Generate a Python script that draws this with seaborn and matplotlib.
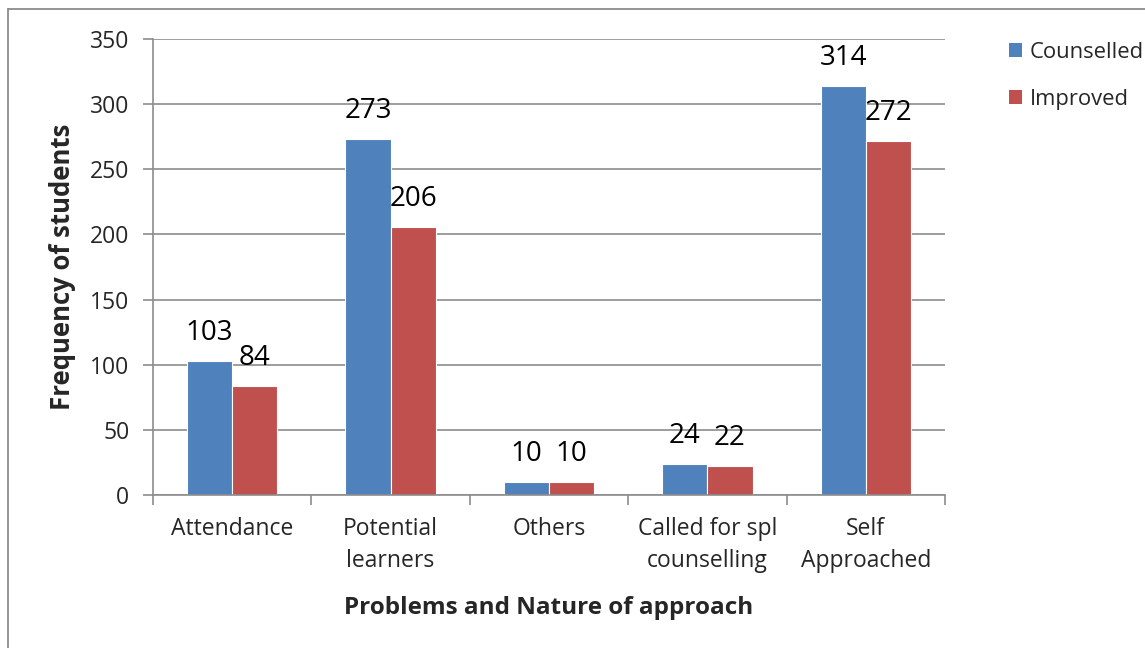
import matplotlib
matplotlib.use("Agg")
import matplotlib.pyplot as plt
import seaborn as sns
import pandas as pd
from matplotlib.lines import Line2D
from matplotlib.patches import Patch

categories = ["Attendance", "Potential\nlearners", "Others", "Called for spl\ncounselling", "Self\nApproached"]
counselled = [103, 273, 10, 24, 314]
improved = [84, 206, 10, 22, 272]
series = ["Counselled", "Improved"]
colors = ["#4F81BD", "#C0504D"]
yticks = [0, 50, 100, 150, 200, 250, 300, 350]

df = pd.DataFrame({
    "category": categories * 2,
    "series": [series[0]] * len(categories) + [series[1]] * len(categories),
    "value": counselled + improved,
})

sns.set_theme(style="white")
plt.rcParams["font.family"] = ["Open Sans", "DejaVu Sans"]

W, H = 1145, 648
fig = plt.figure(figsize=(W / 100, H / 100), dpi=100)
ax = fig.add_axes([153 / W, 1 - 495 / H, (945 - 153) / W, (495 - 39) / H])

sns.barplot(data=df, x="category", y="value", hue="series", order=categories,
            hue_order=series, palette=colors, width=0.57, saturation=1,
            edgecolor="white", linewidth=0.8, ax=ax, legend=False)

for cont in ax.containers:
    ax.bar_label(cont, fmt="%d", padding=10, fontsize=20, color="black")

ax.set_ylim(0, 350)
ax.set_yticks(yticks)
ax.set_xlim(-0.5, len(categories) - 0.5)
ax.yaxis.grid(True, color="#8c8c8c", linewidth=1.2)
ax.set_axisbelow(True)
for s in ["top", "right"]:
    ax.spines[s].set_visible(False)
for s in ["left", "bottom"]:
    ax.spines[s].set_color("#8c8c8c")
    ax.spines[s].set_linewidth(1.2)

# category boundary ticks on the x axis
ax.set_xticks([i + 0.5 for i in range(-1, len(categories))], minor=True)
ax.tick_params(axis="x", which="minor", length=7, width=1.2, color="#8c8c8c", direction="out", bottom=True)
ax.tick_params(axis="x", which="major", length=0, labelsize=16.5, pad=16)
ax.tick_params(axis="y", length=7, width=1.2, color="#8c8c8c", direction="out", left=True, labelsize=16.5, pad=10)
for lbl in ax.get_xticklabels():
    lbl.set_linespacing(1.45)

ax.set_xlabel("Problems and Nature of approach", fontsize=17.5, fontweight="bold", labelpad=16)
ax.set_ylabel("Frequency of students", fontsize=18.5, fontweight="bold", labelpad=10)

handles = [Patch(facecolor=c, edgecolor="none") for c in colors]
fig.legend(handles, series, loc="upper left", bbox_to_anchor=(1000 / W, 1 - 33 / H),
           frameon=False, fontsize=15.8, handlelength=0.62, handleheight=0.62,
           handletextpad=0.35, labelspacing=1.2, borderaxespad=0)

# outer chart-area frame (top and left edges)
fig.add_artist(Line2D([7.5 / W, 1.0], [1 - 9 / H, 1 - 9 / H], transform=fig.transFigure,
                      color="#8c8c8c", linewidth=1.3))
fig.add_artist(Line2D([7.5 / W, 7.5 / W], [0, 1 - 9 / H], transform=fig.transFigure,
                      color="#8c8c8c", linewidth=1.3))

fig.savefig("out.png", dpi=100)
